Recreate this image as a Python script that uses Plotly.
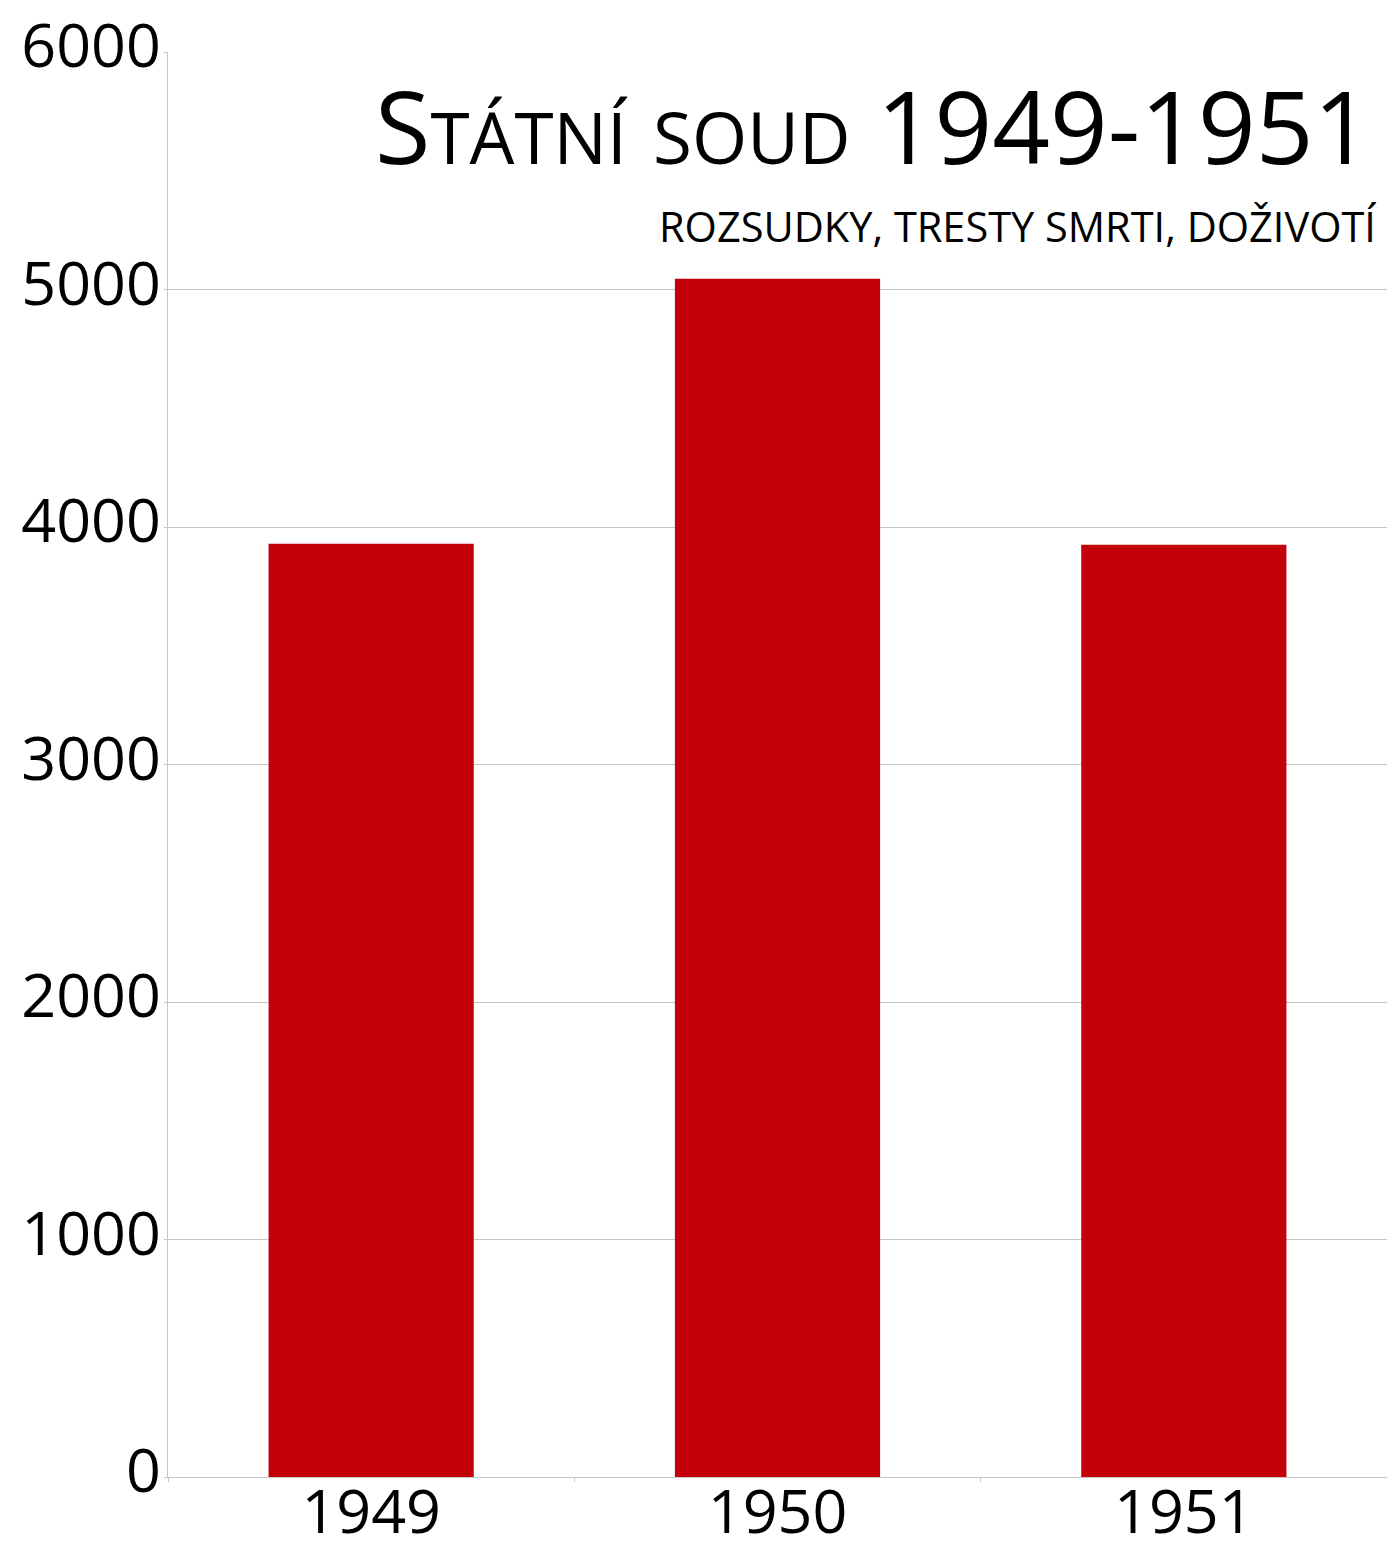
import plotly.graph_objects as go

# Státní soud – počty rozsudků v letech 1949–1951
years = ["1949", "1950", "1951"]
verdicts = [3930, 5045, 3925]
y_ticks = [0, 1000, 2000, 3000, 4000, 5000, 6000]

title_text = "Státní soud 1949-1951"
subtitle_text = "ROZSUDKY, TRESTY SMRTI, DOŽIVOTÍ"

FONT = "Open Sans"
BAR_COLOR = "#C4000B"
GRID = "#C6C6C6"

fig = go.Figure(
    go.Bar(
        x=years,
        y=verdicts,
        marker=dict(color=BAR_COLOR, line=dict(width=0)),
        hoverinfo="x+y",
    )
)

fig.update_layout(
    width=1387,
    height=1542,
    margin=dict(l=168, r=0, t=52, b=65),
    paper_bgcolor="white",
    plot_bgcolor="white",
    bargap=0.495,
    showlegend=False,
    font=dict(family=FONT, color="black"),
)

fig.update_xaxes(
    type="category",
    automargin=False,
    showgrid=False,
    showline=True,
    linecolor=GRID,
    linewidth=1,
    ticks="outside",
    tickson="boundaries",
    ticklen=4,
    tickcolor=GRID,
    ticklabelstandoff=-18,
    tickfont=dict(size=61, family=FONT),
)

fig.update_yaxes(
    range=[0, 6000],
    automargin=False,
    tickvals=y_ticks,
    ticktext=[str(v) for v in y_ticks],
    showgrid=True,
    gridcolor=GRID,
    gridwidth=1,
    zeroline=False,
    showline=True,
    linecolor=GRID,
    linewidth=1,
    ticks="outside",
    ticklen=3,
    tickcolor=GRID,
    ticklabelstandoff=-9,
    ticklabelshift=-6,
    tickfont=dict(size=61, family=FONT),
)

fig.add_annotation(
    text=title_text,
    xref="paper", yref="paper",
    x=1, y=0.949,
    xanchor="right", yanchor="middle",
    xshift=-14,
    showarrow=False,
    font=dict(size=101, family=FONT, color="black", variant="small-caps"),
)

fig.add_annotation(
    text=subtitle_text,
    xref="paper", yref="paper",
    x=1, y=0.878,
    xanchor="right", yanchor="middle",
    xshift=-9,
    showarrow=False,
    font=dict(size=41.5, family=FONT, color="black"),
)

fig.write_html("out.html")
